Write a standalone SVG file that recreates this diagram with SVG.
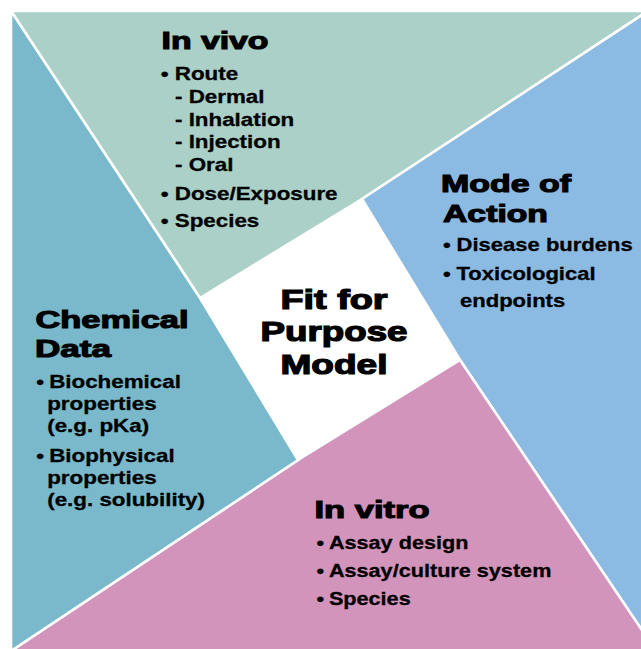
<svg xmlns="http://www.w3.org/2000/svg" width="641" height="649" viewBox="0 0 641 649">
  <style>
    .region { stroke: #ffffff; stroke-width: 2.6; stroke-linejoin: miter; }
    .invivo { fill: #aad0c7; }
    .moa { fill: #8bbbe3; }
    .invitro { fill: #d394bc; }
    .chem { fill: #7ab9cb; }
    text { font-family: "Liberation Sans", Arial, Helvetica, sans-serif; font-weight: bold; fill: #000000; }
    .title { font-size: 24px; stroke: #000000; stroke-width: 1.1px; }
    .center { font-size: 27px; stroke: #000000; stroke-width: 1.2px; text-anchor: middle; }
    .body text { font-size: 18.5px; stroke: #000000; stroke-width: 0.3px; }
  </style>

  <rect x="0" y="0" width="641" height="649" fill="#ffffff"/>

  <!-- four quadrants around the central square -->
  <g id="connectors">
    <polygon id="region-invivo" class="region invivo" points="11,11 648,11 362,199 200,298"/>
    <polygon id="region-moa" class="region moa" points="362,199 648,11 700,11 700,700 689,700 460,360"/>
    <polygon id="region-invitro" class="region invitro" points="298,460 460,360 689,700 11,700 11,651"/>
    <polygon id="region-chem" class="region chem" points="11,11 200,298 298,460 11,651"/>
  </g>

  <!-- In vivo -->
  <g id="node-invivo">
    <text class="title" x="161.5" y="49" textLength="107" lengthAdjust="spacingAndGlyphs">In vivo</text>
    <g class="body" transform="translate(160.7,0) scale(1.21,1)">
      <text x="0" y="80">•</text><text x="11.6" y="80">Route</text>
      <text x="11.8" y="103">- Dermal</text>
      <text x="11.8" y="126">- Inhalation</text>
      <text x="11.8" y="148.5">- Injection</text>
      <text x="11.8" y="171">- Oral</text>
      <text x="0" y="200">•</text><text x="11.6" y="200">Dose/Exposure</text>
      <text x="0" y="227.5">•</text><text x="11.6" y="227.5">Species</text>
    </g>
  </g>

  <!-- Mode of Action -->
  <g id="node-moa">
    <text class="title" x="441" y="192" textLength="130" lengthAdjust="spacingAndGlyphs">Mode of</text>
    <text class="title" x="443" y="222" textLength="105" lengthAdjust="spacingAndGlyphs">Action</text>
    <g class="body" transform="translate(443,0) scale(1.19,1)">
      <text x="0" y="251.5">•</text><text x="11.4" y="251.5">Disease burdens</text>
      <text x="0" y="280">•</text><text x="11.4" y="280">Toxicological</text>
      <text x="14.3" y="307.5">endpoints</text>
    </g>
  </g>

  <!-- In vitro -->
  <g id="node-invitro">
    <text class="title" x="314.5" y="518" textLength="115" lengthAdjust="spacingAndGlyphs">In vitro</text>
    <g class="body" transform="translate(316.5,0) scale(1.17,1)">
      <text x="0" y="549.5">•</text><text x="10.6" y="549.5">Assay design</text>
      <text x="0" y="577.5">•</text><text x="10.6" y="577.5">Assay/culture system</text>
      <text x="0" y="605.5">•</text><text x="10.6" y="605.5">Species</text>
    </g>
  </g>

  <!-- Chemical Data -->
  <g id="node-chem">
    <text class="title" x="35.5" y="328" textLength="153" lengthAdjust="spacingAndGlyphs">Chemical</text>
    <text class="title" x="35" y="357" textLength="76" lengthAdjust="spacingAndGlyphs">Data</text>
    <g class="body" transform="translate(36.2,0) scale(1.21,1)">
      <text x="0" y="388">•</text><text x="10.7" y="388">Biochemical</text>
      <text x="9.1" y="410">properties</text>
      <text x="9.1" y="432">(e.g. pKa)</text>
      <text x="0" y="462">•</text><text x="10.7" y="462">Biophysical</text>
      <text x="9.1" y="484">properties</text>
      <text x="9.1" y="506">(e.g. solubility)</text>
    </g>
  </g>

  <!-- central square -->
  <g id="node-center">
    <text class="center" x="334" y="309" textLength="107" lengthAdjust="spacingAndGlyphs">Fit for</text>
    <text class="center" x="334" y="341" textLength="147" lengthAdjust="spacingAndGlyphs">Purpose</text>
    <text class="center" x="334" y="374" textLength="107" lengthAdjust="spacingAndGlyphs">Model</text>
  </g>
</svg>
